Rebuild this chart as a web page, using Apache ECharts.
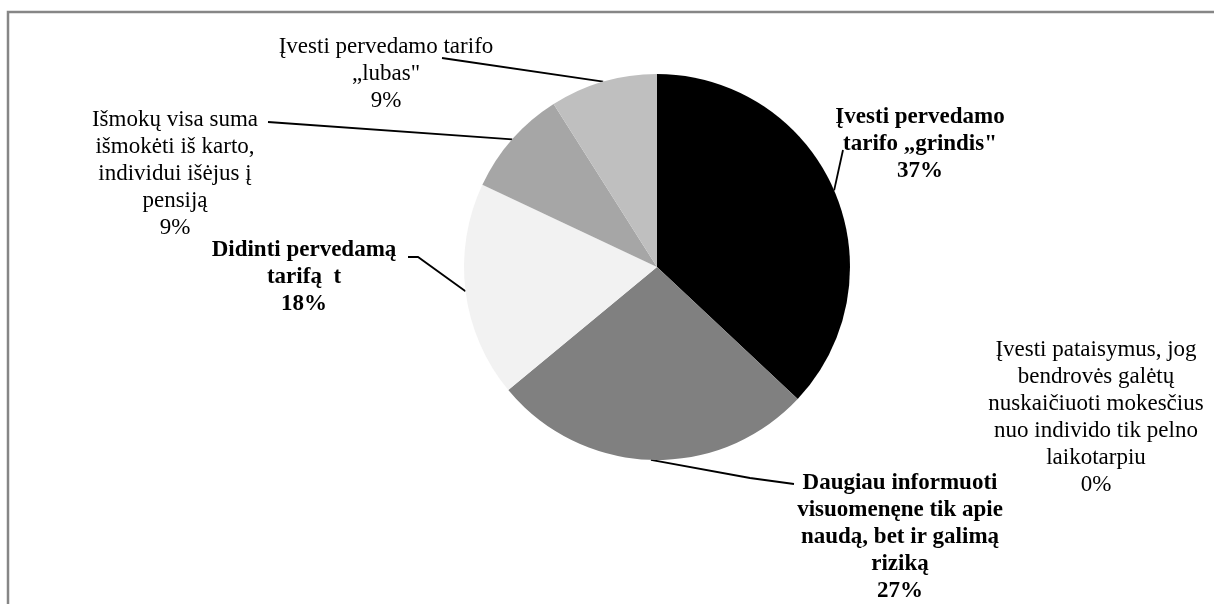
<!DOCTYPE html>
<html><head><meta charset="utf-8">
<script src="https://cdn.jsdelivr.net/npm/echarts@6.0.0/dist/echarts.min.js"></script>
<style>html,body{margin:0;padding:0;background:#fff}#c{width:1214px;height:604px}</style>
</head><body><div id="c"></div>
<script>
// ---- data ----
const categories = [
  'Įvesti pervedamo\ntarifo „grindis"',
  'Daugiau informuoti\nvisuomenęne tik apie\nnaudą, bet ir galimą\nriziką',
  'Didinti pervedamą\ntarifą  t',
  'Išmokų visa suma\nišmokėti iš karto,\nindividui išėjus į\npensiją',
  'Įvesti pervedamo tarifo\n„lubas"',
  'Įvesti pataisymus, jog\nbendrovės galėtų\nnuskaičiuoti mokesčius\nnuo individo tik pelno\nlaikotarpiu'
];
const values = [37, 27, 18, 9, 9, 0];
const boldLabel = [true, true, true, false, false, false];

// ---- styles / layout ----
const colors = ['#000000', '#808080', '#f2f2f2', '#a6a6a6', '#bfbfbf', '#d9d9d9'];
const labelPos = [[920, 104], [900, 470], [304, 237], [175, 106], [386, 33], [1096, 336]];
const lineEnd = [[-77, 46], [-106, 14], [104, 20], [93, 16], [56, 25], null];
const lineMid = [null, [-150, 8], [114, 20], null, null, null];

const chart = echarts.init(document.getElementById('c'), null, {renderer: 'canvas'});
chart.setOption({
  animation: false,
  backgroundColor: '#ffffff',
  graphic: [{
    type: 'rect', z: -1,
    shape: {x: 8, y: 12, width: 1400, height: 800},
    style: {fill: 'none', stroke: '#868686', lineWidth: 2.5}
  }],
  series: [{
    type: 'pie',
    center: [657, 267],
    radius: 193,
    startAngle: 90,
    clockwise: true,
    avoidLabelOverlap: false,
    emphasis: {disabled: true},
    itemStyle: {borderWidth: 0},
    label: {
      show: true,
      position: 'outside',
      fontFamily: 'Liberation Serif',
      fontSize: 23,
      lineHeight: 27,
      color: '#000',
      align: 'center',
      formatter: p => p.name + '\n' + Math.round(p.percent) + '%'
    },
    labelLine: {show: true, smooth: false, lineStyle: {color: '#000', width: 1.8}},
    labelLayout: function (params) {
      const i = params.dataIndex;
      const pos = labelPos[i];
      const res = {x: pos[0], y: pos[1], align: 'center', verticalAlign: 'top'};
      if (lineEnd[i] && params.labelLinePoints) {
        const a = params.labelLinePoints[0];
        const e = [pos[0] + lineEnd[i][0], pos[1] + lineEnd[i][1]];
        const m = lineMid[i] ? [pos[0] + lineMid[i][0], pos[1] + lineMid[i][1]] : e;
        res.labelLinePoints = [a, m, e];
      }
      return res;
    },
    data: categories.map((name, i) => ({
      name: name,
      value: values[i],
      itemStyle: {color: colors[i]},
      label: {fontWeight: boldLabel[i] ? 'bold' : 'normal'},
      labelLine: {show: lineEnd[i] != null}
    }))
  }]
});
</script>
</body></html>
